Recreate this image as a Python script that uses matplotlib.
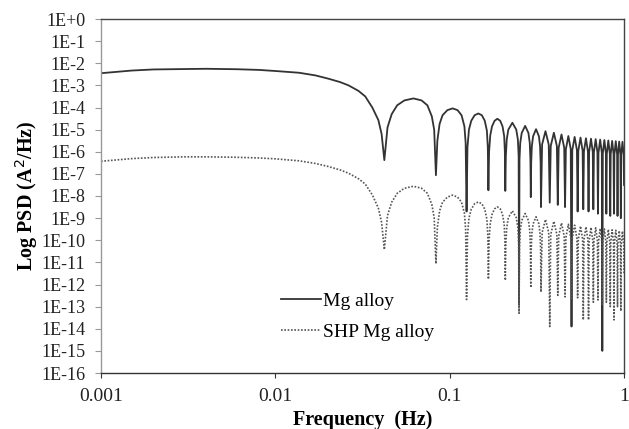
import numpy as np
import matplotlib
matplotlib.use('Agg')
import matplotlib.pyplot as plt

freq = [0.001, 0.0015, 0.002, 0.003, 0.004, 0.006, 0.008, 0.010, 0.0137, 0.017,
        0.0202, 0.0235, 0.0263, 0.030, 0.0328, 0.036, 0.039, 0.0407, 0.0422,
        0.0440, 0.0465, 0.0500, 0.0550, 0.0620, 0.0690, 0.0745, 0.0790, 0.0815, 0.0834,
        0.0850, 0.0875, 0.0910, 0.0970, 0.1040, 0.1110, 0.1170, 0.1215, 0.1235, 0.1250,
        0.1265, 0.1290, 0.1330, 0.1390, 0.1460, 0.1530, 0.1590, 0.1635, 0.1655, 0.1668,
        0.1683, 0.1710, 0.1750, 0.1810, 0.1877, 0.1950, 0.2010, 0.2055, 0.2073, 0.2085,
        0.2100, 0.2125, 0.2170, 0.2290, 0.2410, 0.2462, 0.2487, 0.2500,
        0.2515, 0.2540, 0.2590, 0.2710, 0.2830, 0.2880, 0.2905, 0.2920,
        0.2935, 0.2960, 0.3010, 0.3130, 0.3250, 0.3300, 0.3325, 0.3340,
        0.339, 0.3545, 0.370, 0.375,
        0.380, 0.396, 0.412, 0.417,
        0.422, 0.438, 0.454, 0.459,
        0.464, 0.4795, 0.495, 0.500,
        0.505, 0.521, 0.537, 0.542,
        0.547, 0.563, 0.579, 0.584,
        0.589, 0.605, 0.621, 0.626,
        0.631, 0.6465, 0.662, 0.667,
        0.672, 0.688, 0.704, 0.709,
        0.714, 0.730, 0.746, 0.751,
        0.756, 0.7715, 0.787, 0.792,
        0.797, 0.813, 0.829, 0.834,
        0.839, 0.855, 0.871, 0.876,
        0.881, 0.897, 0.913, 0.918,
        0.923, 0.9385, 0.954, 0.959,
        0.964, 0.980, 0.996, 1.000]

# log10 of PSD (A^2/Hz), Mg alloy
mg_log = [-2.45, -2.33, -2.28, -2.26, -2.25, -2.27, -2.30, -2.35, -2.43, -2.55,
          -2.70, -2.85, -3.00, -3.25, -3.50, -4.00, -4.57, -5.20, -6.38,
          -4.90, -4.30, -3.90, -3.68, -3.59, -3.68, -3.90, -4.40, -5.00, -7.06,
          -5.50, -4.75, -4.35, -4.12, -4.04, -4.12, -4.35, -4.85, -5.60, -8.70,
          -5.80, -5.00, -4.60, -4.35, -4.27, -4.35, -4.60, -5.05, -5.80, -7.74,
          -6.00, -5.25, -4.85, -4.60, -4.51, -4.60, -4.85, -5.30, -6.00, -7.77,
          -6.20, -5.45, -5.00, -4.69, -5.00, -5.45, -6.20, -12.90,
          -6.35, -5.60, -5.15, -4.83, -5.15, -5.60, -6.35, -8.05,
          -6.50, -5.75, -5.30, -4.98, -5.30, -5.75, -6.50, -8.50,
          -5.67, -5.07, -5.67, -8.30,
          -5.74, -5.14, -5.74, -8.40,
          -5.82, -5.22, -5.82, -8.50,
          -5.89, -5.29, -5.89, -13.90,
          -5.93, -5.33, -5.93, -8.70,
          -5.96, -5.36, -5.96, -8.60,
          -5.99, -5.39, -5.99, -8.70,
          -6.01, -5.41, -6.01, -8.60,
          -6.03, -5.43, -6.03, -8.80,
          -6.05, -5.45, -6.05, -15.00,
          -6.07, -5.47, -6.07, -8.80,
          -6.09, -5.49, -6.09, -8.90,
          -6.11, -5.51, -6.11, -8.80,
          -6.12, -5.52, -6.12, -8.90,
          -6.14, -5.54, -6.14, -9.00,
          -6.15, -5.55, -6.15, -7.50]

# log10 of PSD (A^2/Hz), SHP Mg alloy
shp_log = [-6.43, -6.31, -6.26, -6.23, -6.23, -6.25, -6.28, -6.32, -6.41, -6.53,
           -6.67, -6.82, -6.97, -7.22, -7.46, -7.95, -8.55, -9.20, -10.42,
           -8.88, -8.28, -7.88, -7.65, -7.56, -7.65, -7.88, -8.38, -8.98, -11.06,
           -9.42, -8.68, -8.28, -8.05, -7.96, -8.05, -8.28, -8.78, -9.52, -12.68,
           -9.80, -9.00, -8.60, -8.35, -8.27, -8.35, -8.60, -9.05, -9.80, -11.76,
           -9.98, -9.23, -8.83, -8.58, -8.49, -8.58, -8.83, -9.28, -9.98, -11.81,
           -10.18, -9.43, -8.98, -8.67, -8.98, -9.43, -10.18, -13.30,
           -10.31, -9.56, -9.11, -8.79, -9.11, -9.56, -10.31, -12.14,
           -10.46, -9.71, -9.26, -8.94, -9.26, -9.71, -10.46, -12.34,
           -9.66, -9.06, -9.66, -13.90,
           -9.74, -9.14, -9.74, -12.49,
           -9.82, -9.22, -9.82, -12.56,
           -9.88, -9.28, -9.88, -12.70,
           -9.92, -9.32, -9.92, -12.60,
           -9.96, -9.36, -9.96, -13.60,
           -9.99, -9.39, -9.99, -13.60,
           -10.02, -9.42, -10.02, -12.80,
           -10.04, -9.44, -10.04, -12.70,
           -10.07, -9.47, -10.07, -12.90,
           -10.09, -9.49, -10.09, -12.80,
           -10.11, -9.51, -10.11, -13.00,
           -10.13, -9.53, -10.13, -13.60,
           -10.15, -9.55, -10.15, -13.00,
           -10.17, -9.57, -10.17, -13.20,
           -10.19, -9.59, -10.19, -11.50]

xticks = [0.001, 0.01, 0.1, 1]
xticklabels = ['0.001', '0.01', '0.1', '1']
yexp = list(range(0, -17, -1))
yticklabels = ['1E+0'] + ['1E%d' % e for e in yexp[1:]]

plt.rcParams['font.family'] = ['Liberation Serif', 'DejaVu Serif']

fig = plt.figure(figsize=(6.29, 4.29), dpi=100)
# plot area: x 101..624 px, y 19..373 px
ax = fig.add_axes([101/629, 56/429, 523/629, 354/429])

f = np.array(freq)
ax.plot(f, 10.0**np.array(mg_log), color='#333333', lw=1.3, label='Mg alloy')
ax.plot(f, 10.0**np.array(shp_log), color='#555555', lw=1.2,
        linestyle=(0, (1, 1)), label='SHP Mg alloy')

ax.set_xscale('log')
ax.set_yscale('log')
ax.set_xlim(0.001, 1)
ax.set_ylim(1e-16, 1)
ax.set_xticks(xticks)
ax.set_xticklabels(xticklabels)
ax.set_yticks([10.0**e for e in yexp])
ax.set_yticklabels(yticklabels)
ax.minorticks_off()
ax.tick_params(axis='x', labelsize=14, length=3.5, width=0.8, pad=7,
               color='#333333', labelcolor='#222222')
ax.tick_params(axis='y', labelsize=13, length=4.3, width=0.8, pad=7,
               color='#999999', labelcolor='#222222')

ax.spines['left'].set_color('#999999')
ax.spines['bottom'].set_color('#333333')
ax.spines['top'].set_color('#444444')
ax.spines['right'].set_color('#444444')
for s in ax.spines.values():
    s.set_linewidth(1.0)

ax.set_xlabel('Frequency  (Hz)', fontsize=14.5, fontweight='bold', labelpad=4)
ax.set_ylabel('Log PSD (A$^2$/Hz)', fontsize=14.5, fontweight='bold', labelpad=1)

ax.legend(loc='center left', bbox_to_anchor=(0.31, 0.16), frameon=False,
          fontsize=14, handlelength=2.1, handletextpad=0.1, labelspacing=0.7)

fig.savefig('out.png', dpi=100)
